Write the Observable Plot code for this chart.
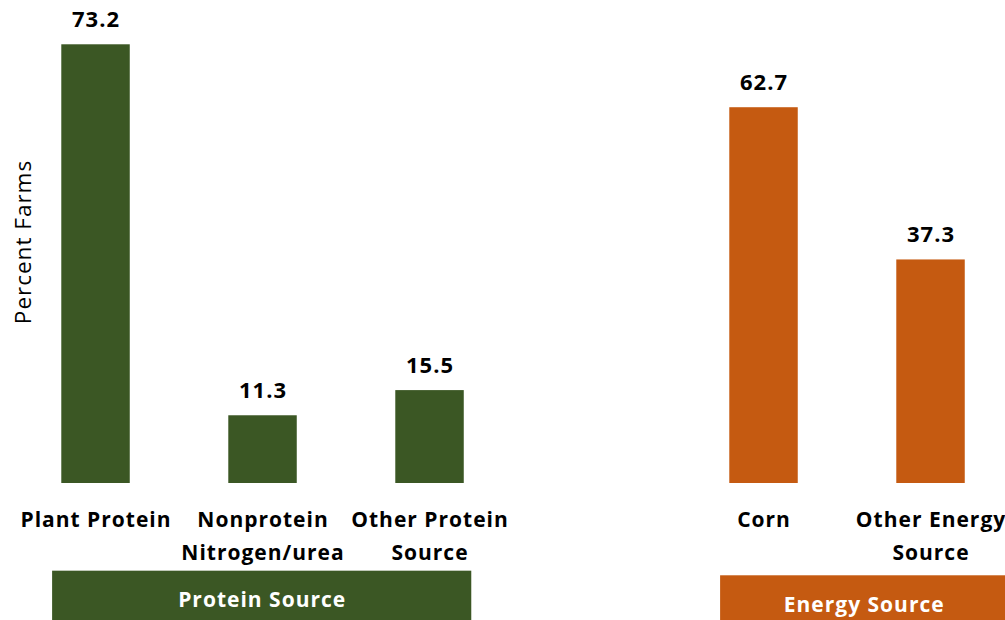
<!DOCTYPE html>
<html>
<head>
<meta charset="utf-8">
<script src="https://cdn.jsdelivr.net/npm/d3@7"></script>
<script src="https://cdn.jsdelivr.net/npm/@observablehq/plot@0.6"></script>
<style>
  html, body { margin: 0; padding: 0; background: #fff; overflow: hidden; }
  #chart svg text { letter-spacing: 1px; }
</style>
</head>
<body>
<div id="chart"></div>
<script>
// ---- data ----
const categories = ["Plant Protein", "Nonprotein\nNitrogen/urea", "Other Protein\nSource", "Corn", "Other Energy\nSource"];
const values = [73.2, 11.3, 15.5, 62.7, 37.3];
const groupOf = ["Protein Source", "Protein Source", "Protein Source", "Energy Source", "Energy Source"];
const groupNames = ["Protein Source", "Energy Source"];
const groupColors = ["#3b5724", "#c55a11"];
const yLabel = "Percent Farms";

// ---- layout (not data) ----
const W = 1005, H = 620;
const xDomain = [-0.572, 5.446];
const yDomain = [-22.86, 80.59];
// slot index: one empty slot between the two groups
const rows = categories.map((c, i) => ({
  label: c,
  value: values[i],
  group: groupOf[i],
  slot: i + (groupOf[i] === "Energy Source" ? 1 : 0)
}));
const boxPad = {"Protein Source": [0.26, 0.25, -14.63], "Energy Source": [0.26, 0.46, -15.4]};
const groups = groupNames.map(g => {
  const slots = rows.filter(r => r.group === g).map(r => r.slot);
  const [pl, pr, top] = boxPad[g];
  const x1 = Math.min(...slots) - pl, x2 = Math.max(...slots) + pr;
  return {group: g, x1, x2, xc: (x1 + x2) / 2, top};
});

const halfBar = 0.205;

const chart = Plot.plot({
  width: W,
  height: H,
  marginTop: 0, marginBottom: 0, marginLeft: 0, marginRight: 0,
  style: {fontFamily: "'Open Sans', sans-serif", background: "#fff", color: "#000"},
  x: {domain: xDomain, axis: null},
  y: {domain: yDomain, axis: null},
  color: {domain: groupNames, range: groupColors},
  marks: [
    Plot.rect(rows, {x1: d => d.slot - halfBar, x2: d => d.slot + halfBar, y1: 0, y2: "value", fill: "group"}),
    Plot.text(rows, {x: "slot", y: "value", text: d => d.value.toFixed(1), dy: -25, fontSize: 22, fontWeight: "bold", fill: "#000"}),
    Plot.text(rows, {x: "slot", y: 0, text: "label", lineAnchor: "top", dy: 20, fontSize: 21, fontWeight: "bold", lineHeight: 1.585, fill: "#000"}),
    Plot.rect(groups, {x1: "x1", x2: "x2", y1: "top", y2: yDomain[0], fill: "group"}),
    Plot.text(groups, {x: "xc", y: "top", text: "group", dy: 29.5, fontSize: 21, fontWeight: "bold", fill: "#fff"}),
    Plot.text([yLabel], {x: xDomain[0], y: yDomain[1] / 2, text: d => d, rotate: -90, textAnchor: "middle", dx: 23, fontSize: 22.5, fill: "#000"})
  ]
});
document.getElementById("chart").appendChild(chart);
</script>
</body>
</html>
